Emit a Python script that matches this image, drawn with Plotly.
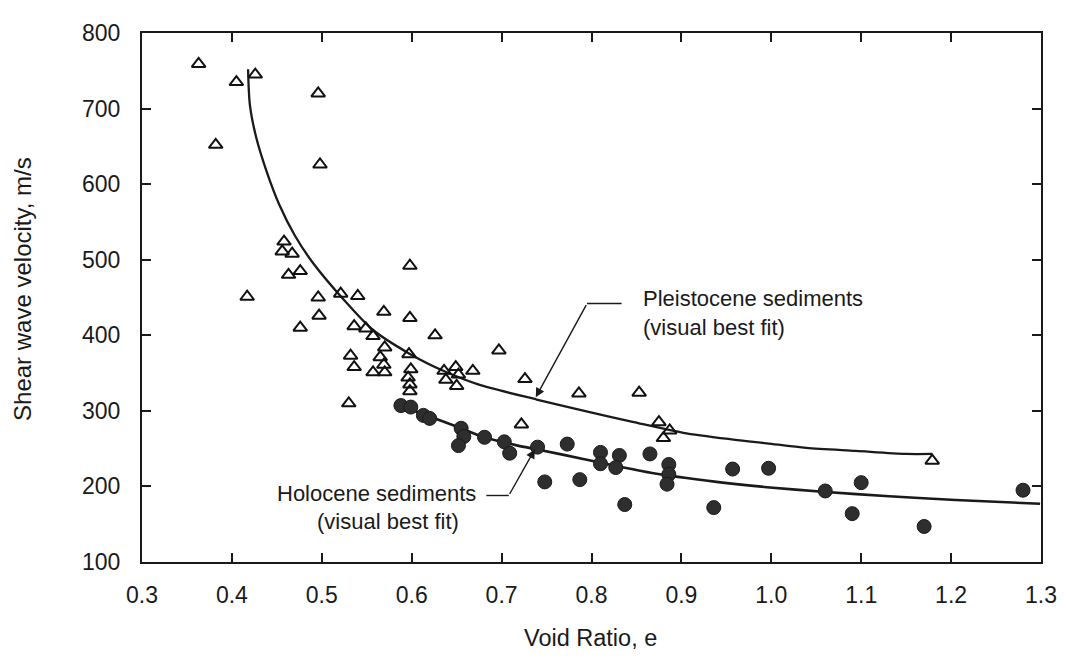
import plotly.graph_objects as go

# Pleistocene sediments (open triangles)
pleist_e = [0.363, 0.405, 0.426, 0.496, 0.382, 0.498, 0.458, 0.456, 0.467, 0.598,
            0.463, 0.476, 0.496, 0.521, 0.540, 0.497, 0.476, 0.569, 0.598, 0.536,
            0.549, 0.557, 0.626, 0.570, 0.565, 0.569, 0.532, 0.536, 0.557, 0.570,
            0.597, 0.599, 0.596, 0.598, 0.598, 0.697, 0.636, 0.649, 0.652, 0.638,
            0.650, 0.668, 0.726, 0.530, 0.722, 0.786, 0.853, 0.875, 0.887, 0.880,
            1.179, 0.417]
pleist_v = [759, 735, 745, 720, 652, 626, 524, 511, 508, 492,
            480, 485, 450, 455, 452, 426, 410, 431, 423, 412,
            409, 399, 400, 384, 371, 361, 373, 358, 351, 351,
            375, 355, 344, 335, 326, 380, 353, 358, 348, 341,
            333, 353, 342, 310, 282, 323, 324, 285, 274, 264,
            234, 451]

# Holocene sediments (filled circles)
holo_e = [0.588, 0.599, 0.613, 0.620, 0.655, 0.658, 0.652, 0.681, 0.703, 0.709,
          0.740, 0.748, 0.773, 0.787, 0.810, 0.810, 0.831, 0.827, 0.865, 0.886,
          0.886, 0.884, 0.837, 0.936, 0.957, 0.997, 1.060, 1.100, 1.090, 1.170,
          1.280]
holo_v = [307, 305, 294, 290, 277, 266, 254, 265, 259, 244,
          252, 206, 256, 209, 245, 230, 241, 225, 243, 229,
          216, 203, 176, 172, 223, 224, 194, 205, 164, 147,
          195]

# Visual best-fit curves
pleist_fit_e = [0.418, 0.420, 0.427, 0.438, 0.453, 0.470, 0.490, 0.526, 0.556, 0.597,
                0.637, 0.674, 0.739, 0.792, 0.847, 0.902, 0.958, 0.995, 1.039, 1.094,
                1.150, 1.179]
pleist_fit_v = [752, 705, 662, 619, 572, 532, 496, 445, 408, 376,
                352, 335, 315, 300, 285, 271, 262, 257, 251, 247,
                243, 243]
holo_fit_e = [0.587, 0.626, 0.655, 0.678, 0.718, 0.740, 0.792, 0.866, 0.939, 0.995,
              1.057, 1.131, 1.205, 1.299]
holo_fit_v = [307, 290, 277, 266, 254, 249, 236, 218, 206, 199,
              193, 187, 182, 177]

x_ticks = [0.3, 0.4, 0.5, 0.6, 0.7, 0.8, 0.9, 1.0, 1.1, 1.2, 1.3]
x_ticktext = ["0.3", "0.4", "0.5", "0.6", "0.7", "0.8", "0.9", "1.0", "1.1", "1.2", "1.3"]
y_ticks = [100, 200, 300, 400, 500, 600, 700, 800]

FONT = "Liberation Sans, Arial, Helvetica, sans-serif"
INK = "#1a1a1a"

fig = go.Figure()
fig.add_trace(go.Scatter(x=pleist_fit_e, y=pleist_fit_v, mode="lines",
                         line=dict(color=INK, width=2.3, shape="spline", smoothing=0.8),
                         hoverinfo="skip", showlegend=False))
fig.add_trace(go.Scatter(x=holo_fit_e, y=holo_fit_v, mode="lines",
                         line=dict(color=INK, width=2.6, shape="spline", smoothing=0.8),
                         hoverinfo="skip", showlegend=False))
fig.add_trace(go.Scatter(x=pleist_e, y=pleist_v, mode="markers", name="Pleistocene",
                         marker=dict(symbol="triangle-up-open", size=12, color="#111111",
                                     line=dict(width=2, color="#111111")),
                         showlegend=False))
fig.add_trace(go.Scatter(x=holo_e, y=holo_v, mode="markers", name="Holocene",
                         marker=dict(symbol="circle", size=14, color="#2e2e2e",
                                     line=dict(width=1, color="#1a1a1a")),
                         showlegend=False))

axis_common = dict(showline=True, linecolor=INK, linewidth=2, mirror="ticks",
                   ticks="inside", ticklen=9, tickwidth=1.5, tickcolor=INK,
                   showgrid=False, zeroline=False,
                   tickfont=dict(family=FONT, size=23, color=INK))

# page body has an 8px margin, so the figure is sized to fit inside 1069x658
fig.update_layout(
    width=1061, height=650,
    margin=dict(l=134, r=23, t=12, b=96),
    paper_bgcolor="white", plot_bgcolor="white",
    xaxis=dict(range=[0.3, 1.3], tickvals=x_ticks, ticktext=x_ticktext,
               ticklabelstandoff=11, **axis_common),
    yaxis=dict(range=[100, 800], tickvals=y_ticks, ticklabelstandoff=15, **axis_common),
)

# leader lines
fig.add_shape(type="line", x0=0.795, y0=442, x1=0.8335, y1=442, xref="x", yref="y",
              line=dict(color=INK, width=1.4))
fig.add_shape(type="line", x0=0.683, y0=188, x1=0.708, y1=188, xref="x", yref="y",
              line=dict(color=INK, width=1.4))

fig.add_annotation(x=0.738, y=318, ax=0.795, ay=442, xref="x", yref="y", axref="x", ayref="y",
                   text="", showarrow=True, arrowhead=2, arrowsize=1.3, arrowwidth=1.4,
                   arrowcolor=INK)
fig.add_annotation(x=0.737, y=249, ax=0.708, ay=188, xref="x", yref="y", axref="x", ayref="y",
                   text="", showarrow=True, arrowhead=2, arrowsize=1.3, arrowwidth=1.4,
                   arrowcolor=INK)

txtfont = dict(family=FONT, size=22, color=INK)
fig.add_annotation(x=0.855, y=430, xref="x", yref="y", xanchor="left", yanchor="middle",
                   align="left", showarrow=False, font=txtfont,
                   text="Pleistocene sediments<br>(visual best fit)")
fig.add_annotation(x=0.674, y=191, xref="x", yref="y", xanchor="right", yanchor="middle",
                   showarrow=False, font=txtfont, text="Holocene sediments")
fig.add_annotation(x=0.574, y=154, xref="x", yref="y", xanchor="center", yanchor="middle",
                   showarrow=False, font=txtfont, text="(visual best fit)")

# axis titles
fig.add_annotation(x=0.499, y=-0.143, xref="paper", yref="paper", xanchor="center",
                   yanchor="middle", showarrow=False,
                   font=dict(family=FONT, size=23.5, color=INK), text="Void Ratio, e")
fig.add_annotation(x=-0.133, y=0.517, xref="paper", yref="paper", xanchor="center",
                   yanchor="middle", textangle=-90, showarrow=False,
                   font=dict(family=FONT, size=24, color=INK),
                   text="Shear wave velocity, m/s")

fig.write_html("out.html")
